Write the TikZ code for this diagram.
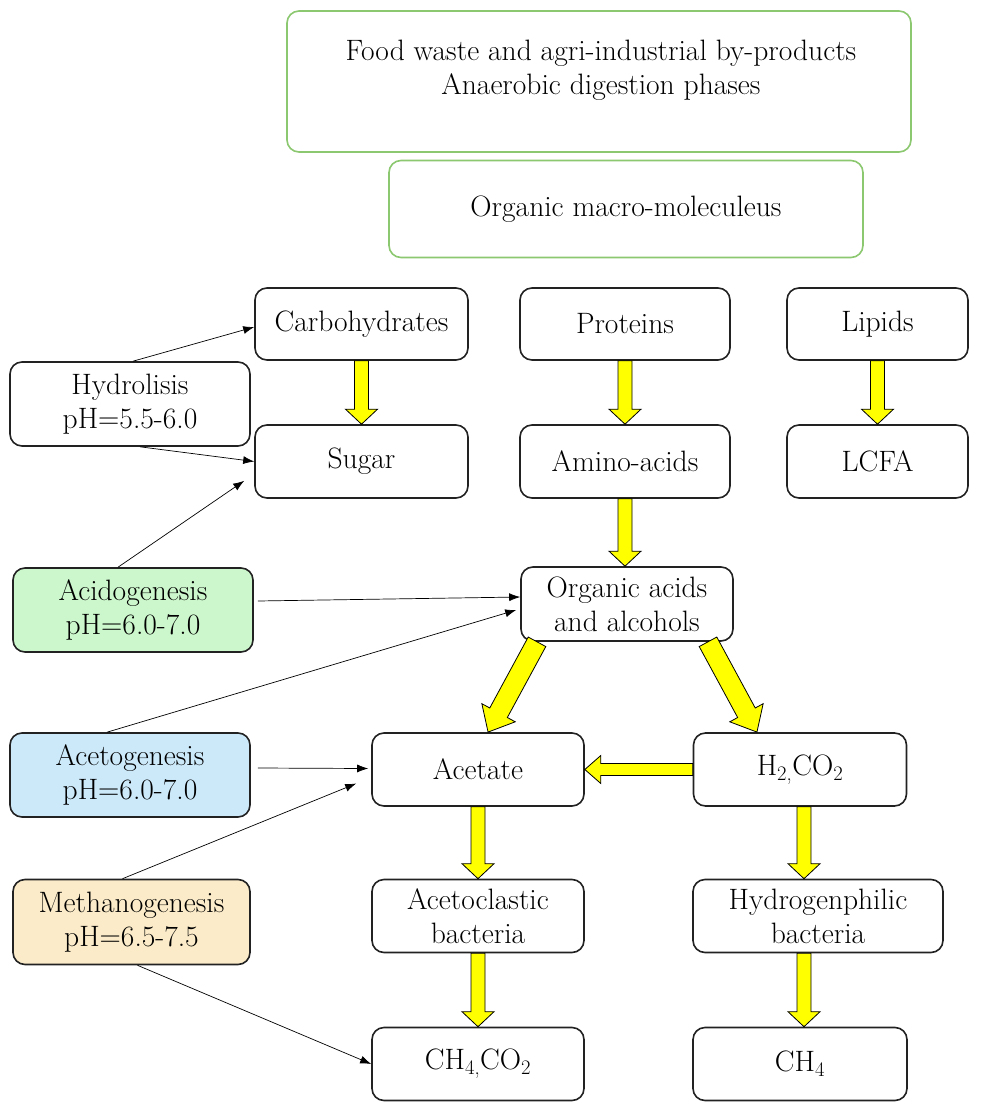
\documentclass[tikz,border=0pt]{standalone}
\usepackage{fontspec}
\usetikzlibrary{arrows.meta,calc}
\definecolor{gbord}{HTML}{8CC870}
\definecolor{fgreen}{HTML}{CCF7CC}
\definecolor{fblue}{HTML}{CCE9FA}
\definecolor{forange}{HTML}{FBEBC8}
\definecolor{yel}{HTML}{FFFF00}
\definecolor{bord}{HTML}{222222}
\tikzset{
  base/.style={rounded corners=12pt, line width=1.6pt, align=center, inner sep=0pt,
    font=\fontsize{29.5}{34}\selectfont},
  box/.style={base, draw=bord, fill=white},
  gbox/.style={base, draw=gbord},
  phase/.style={box, minimum width=240pt, minimum height=84pt},
  yarrow/.style={draw=black, line width=0.8pt, fill=yel, line join=miter},
  thin/.style={line width=0.7pt, -{Latex[length=11pt,width=8pt]}},
}
\newcommand{\blockarr}[5]{%
  \draw[yarrow] let \p1=#1, \p2=#2, \n1={atan2(\y2-\y1,\x2-\x1)},
    \n2={veclen(\x2-\x1,\y2-\y1)} in [shift={(\p1)}, rotate=\n1]
    (0,-#3) -- ({\n2-#5},-#3) -- ({\n2-#5},-#4) -- (\n2,0) --
    ({\n2-#5},#4) -- ({\n2-#5},#3) -- (0,#3) -- cycle;}
\begin{document}
\begin{tikzpicture}[x=1pt,y=-1pt]
\useasboundingbox[fill=white] (0,0) rectangle (985,1102);
% top boxes
\node[gbox, minimum width=624pt, minimum height=141pt] (top) at (599,81.5) {};
\node[base] (toptxt) at (601,70) {Food waste and agri-industrial by-products\\Anaerobic digestion phases};
\node[gbox, minimum width=474pt, minimum height=97pt] (macro) at (626,209) {Organic macro-moleculeus};
% row 1
\node[box, minimum width=213pt, minimum height=72pt] (carb) at (361.5,324) {Carbohydrates};
\node[box, minimum width=210pt, minimum height=72pt] (prot) at (625,324) {Proteins};
\node[box, minimum width=181pt, minimum height=72pt] (lip) at (877.5,324) {Lipids};
% row 2
\node[box, minimum width=213pt, minimum height=73pt] (sugar) at (361.5,461.5) {Sugar};
\node[box, minimum width=210pt, minimum height=73pt] (amino) at (625,461.5) {Amino-acids};
\node[box, minimum width=181pt, minimum height=73pt] (lcfa) at (877.5,461.5) {LCFA};
% middle
\node[box, minimum width=212pt, minimum height=74pt] (orgacid) at (627,604) {Organic acids\\and alcohols};
\node[box, minimum width=212pt, minimum height=73pt] (acetate) at (478,769.5) {Acetate};
\node[box, minimum width=213pt, minimum height=73pt] (h2) at (800,769.5) {H\textsubscript{2,}CO\textsubscript{2}};
\node[box, minimum width=212pt, minimum height=73pt] (acl) at (478,916) {Acetoclastic\\bacteria};
\node[box, minimum width=250pt, minimum height=73pt] (hyb) at (818,916) {Hydrogenphilic\\bacteria};
\node[box, minimum width=212pt, minimum height=73pt] (ch4co2) at (478,1064) {CH\textsubscript{4,}CO\textsubscript{2}};
\node[box, minimum width=214pt, minimum height=73pt] (ch4) at (800,1064) {CH\textsubscript{4}};
% phases
\node[phase] (hyd) at (130,404) {Hydrolisis\\pH=5.5-6.0};
\node[phase, fill=fgreen] (acid) at (133,610) {Acidogenesis\\pH=6.0-7.0};
\node[phase, fill=fblue] (aceto) at (130,775) {Acetogenesis\\pH=6.0-7.0};
\node[phase, fill=forange, minimum width=237pt, minimum height=85pt] (meth) at (131.5,922) {Methanogenesis\\pH=6.5-7.5};
% yellow arrows
\blockarr{(carb.south)}{(sugar.north)}{7}{16}{15}
\blockarr{(prot.south)}{(amino.north)}{7}{16}{15}
\blockarr{(lip.south)}{(lcfa.north)}{7}{16}{15}
\blockarr{(amino.south)}{($(orgacid.north)+(-2,0)$)}{7}{16}{15}
\blockarr{(acetate.south)}{(acl.north)}{7}{16}{15}
\blockarr{(acl.south)}{(ch4co2.north)}{7}{16}{15}
\blockarr{($(h2.south)+(4,0)$)}{($(hyb.north)+(-14,0)$)}{7}{16}{15}
\blockarr{($(hyb.south)+(-14,0)$)}{($(ch4.north)+(4,0)$)}{7}{16}{15}
\blockarr{(h2.west)}{(acetate.east)}{6}{14}{16}
\blockarr{($(orgacid.south)+(-90,0)$)}{($(acetate.north)+(10,0)$)}{10}{19}{22}
\blockarr{($(orgacid.south)+(81,0)$)}{($(h2.north)+(-43,0)$)}{10}{19}{22}
% thin arrows
\draw[thin] ($(hyd.north)+(3,0)$) -- ($(carb.west)+(0,3)$);
\draw[thin] ($(hyd.south)+(10,0)$) -- (sugar.west);
\draw[thin] ($(acid.north)+(-15,0)$) -- ($(sugar.south west)+(-10,-18)$);
\draw[thin] ($(acid.east)+(4,-9)$) -- ($(orgacid.west)+(0,-7)$);
\draw[thin] ($(aceto.north)+(-23,0)$) -- ($(orgacid.west)+(-4,6)$);
\draw[thin] ($(aceto.east)+(7,-7)$) -- ($(acetate.west)+(-3,-1)$);
\draw[thin] ($(meth.north)+(-9,0)$) -- ($(acetate.west)+(-15,14)$);
\draw[thin] ($(meth.south)+(6,0)$) -- (ch4co2.west);
\end{tikzpicture}
\end{document}
